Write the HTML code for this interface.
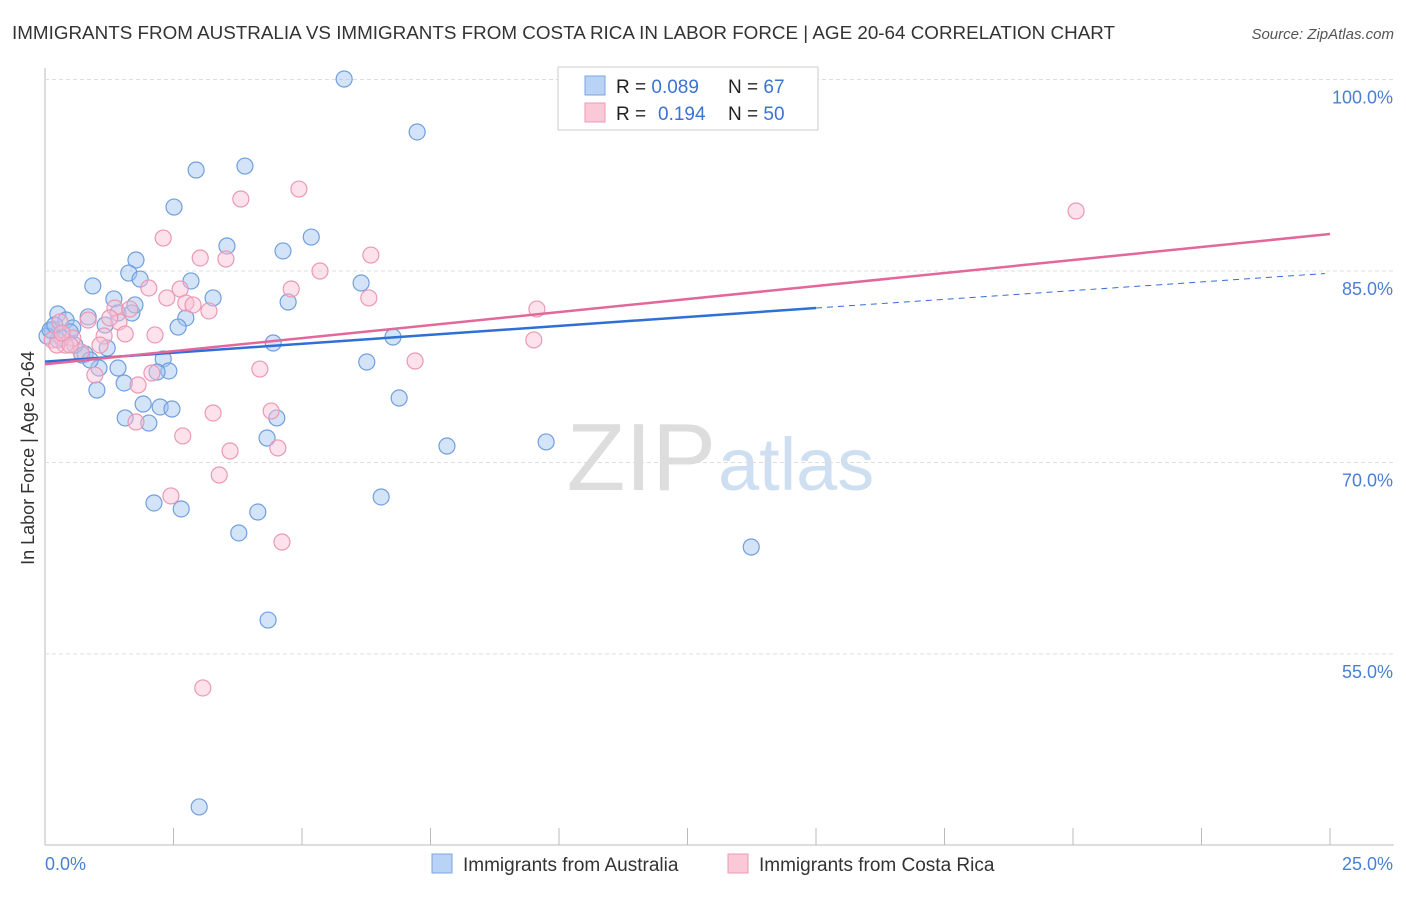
<!DOCTYPE html>
<html><head><meta charset="utf-8"><style>
body{margin:0;background:#fff;font-family:"Liberation Sans",sans-serif;}
svg text{font-family:"Liberation Sans",sans-serif;}
</style></head><body>
<svg id="c" width="1406" height="892">
<text x="12" y="39" font-size="18" fill="#333" textLength="1103" lengthAdjust="spacingAndGlyphs">IMMIGRANTS FROM AUSTRALIA VS IMMIGRANTS FROM COSTA RICA IN LABOR FORCE | AGE 20-64 CORRELATION CHART</text>
<text x="1394" y="39" font-size="15" fill="#555" font-style="italic" text-anchor="end">Source: ZipAtlas.com</text>
<text x="34" y="458" font-size="18" fill="#333" text-anchor="middle" transform="rotate(-90 34 458)">In Labor Force | Age 20-64</text>
<text x="716" y="490" font-size="96" fill="#ddd" text-anchor="end" font-family="Liberation Serif">ZIP</text>
<text x="718" y="490" font-size="74" fill="#cfdff2">atlas</text>
<g id="grid"></g><g id="pts"></g><g id="lines"></g>
<g>
<rect x="558" y="67" width="260" height="63" fill="#fff" stroke="#ccc"/>
<rect x="585" y="76" width="20" height="19" fill="#b8d3f5" stroke="#7aa6e0"/>
<rect x="585" y="103" width="20" height="19" fill="#fbc8d8" stroke="#eb9ab4"/>
<text x="616" y="93" font-size="19" fill="#222">R = <tspan fill="#3b73d1">0.089</tspan><tspan x="728">N = </tspan><tspan fill="#3b73d1">67</tspan></text>
<text x="616" y="120" font-size="19" fill="#222">R = <tspan fill="#3b73d1" x="658">0.194</tspan><tspan x="728">N = </tspan><tspan fill="#3b73d1">50</tspan></text>
</g>
<g>
<rect x="432" y="854" width="20" height="19" fill="#b8d3f5" stroke="#7aa6e0"/>
<text x="463" y="871" font-size="19" fill="#333">Immigrants from Australia</text>
<rect x="728" y="854" width="20" height="19" fill="#fbc8d8" stroke="#eb9ab4"/>
<text x="759" y="871" font-size="19" fill="#333">Immigrants from Costa Rica</text>
</g>
</svg>
<script>
const yTicks=[100,85,70,55];
const bluePx=[[344,79],[417,132],[196,170],[245,166],[174,207],[227,246],[311,237],[283,251],[136,260],[129,273],[140,279],[93,286],[191,281],[361,283],[114,299],[213,298],[288,302],[58,314],[66,320],[88,317],[118,313],[132,313],[186,318],[105,325],[178,327],[73,328],[52,330],[70,332],[47,336],[58,340],[393,337],[273,343],[107,348],[82,355],[85,354],[163,359],[367,362],[99,368],[118,368],[169,371],[157,372],[124,383],[97,390],[399,398],[143,404],[160,407],[172,409],[125,418],[149,423],[277,418],[267,438],[447,446],[546,442],[381,497],[154,503],[181,509],[258,512],[239,533],[751,547],[268,620],[199,807],[50,330],[55,325],[62,338],[75,345],[90,360],[135,305]];
const pinkPx=[[1076,211],[299,189],[241,199],[163,238],[200,258],[226,259],[371,255],[320,271],[149,288],[291,289],[180,289],[167,298],[186,303],[193,305],[369,298],[209,311],[115,308],[130,309],[537,309],[88,320],[119,322],[60,322],[155,335],[125,334],[104,336],[52,340],[534,340],[73,338],[65,345],[100,345],[81,352],[415,361],[260,369],[95,375],[152,373],[138,385],[213,413],[271,411],[136,422],[183,436],[230,451],[278,448],[219,475],[171,496],[282,542],[203,688],[57,345],[70,345],[62,333],[110,318]];
const blueX=bluePx.map(p=>+((p[0]-45)*25/1285).toFixed(2));
const blueY=bluePx.map(p=>+(100-(p[1]-79.5)*15/191.5).toFixed(2));
const pinkX=pinkPx.map(p=>+((p[0]-45)*25/1285).toFixed(2));
const pinkY=pinkPx.map(p=>+(100-(p[1]-79.5)*15/191.5).toFixed(2));
const blueLine=[[0,77.9],[15,82.1],[24.9,84.8]];
const pinkLine=[[0,77.7],[25,87.9]];
const sx=v=>45+v*1285/25, sy=v=>79.5+(100-v)*191.5/15;
const NS="http://www.w3.org/2000/svg";
function mk(t,a,parent){const e=document.createElementNS(NS,t);for(const k in a)e.setAttribute(k,a[k]);document.getElementById(parent).appendChild(e);return e;}
let e=mk('line',{x1:45,y1:68,x2:45,y2:845,stroke:'#bbb'},'grid');


e=mk('line',{x1:45,y1:845,x2:1394,y2:845,stroke:'#bbb'},'grid');


for(let i=0;i<=10;i++){e=mk('line',{x1:45+i*128.5,y1:828,x2:45+i*128.5,y2:845,stroke:'#bbb'},'grid');

}
yTicks.forEach(v=>{e=mk('line',{x1:45,y1:sy(v),x2:1394,y2:sy(v),stroke:'#ddd','stroke-dasharray':'4 3'},'grid');


const t=mk('text',{x:1393,y:sy(v)+24,'font-size':18,fill:'#4a7fd4','text-anchor':'end'},'grid');t.textContent=v.toFixed(1)+'%';

});
let t=mk('text',{x:45,y:870,'font-size':18,fill:'#4a7fd4'},'grid');t.textContent='0.0%';


t=mk('text',{x:1393,y:870,'font-size':18,fill:'#4a7fd4','text-anchor':'end'},'grid');t.textContent='25.0%';


blueX.forEach((x,i)=>{const c=mk('circle',{cx:sx(x),cy:sy(blueY[i]),r:8,fill:'rgba(160,195,240,0.45)',stroke:'#6f9fe0','stroke-width':1.2},'pts');

});
pinkX.forEach((x,i)=>{const c=mk('circle',{cx:sx(x),cy:sy(pinkY[i]),r:8,fill:'rgba(250,190,210,0.45)',stroke:'#eb98b5','stroke-width':1.2},'pts');

});
e=mk('line',{x1:sx(blueLine[0][0]),y1:sy(blueLine[0][1]),x2:sx(blueLine[1][0]),y2:sy(blueLine[1][1]),stroke:'#2f6fd6','stroke-width':2.5},'lines');


e=mk('line',{x1:sx(blueLine[1][0]),y1:sy(blueLine[1][1]),x2:sx(blueLine[2][0]),y2:sy(blueLine[2][1]),stroke:'#2f6fd6','stroke-width':1,'stroke-dasharray':'6 5'},'lines');


e=mk('line',{x1:sx(pinkLine[0][0]),y1:sy(pinkLine[0][1]),x2:sx(pinkLine[1][0]),y2:sy(pinkLine[1][1]),stroke:'#e2689a','stroke-width':2.5},'lines');


</script>
</body></html>
